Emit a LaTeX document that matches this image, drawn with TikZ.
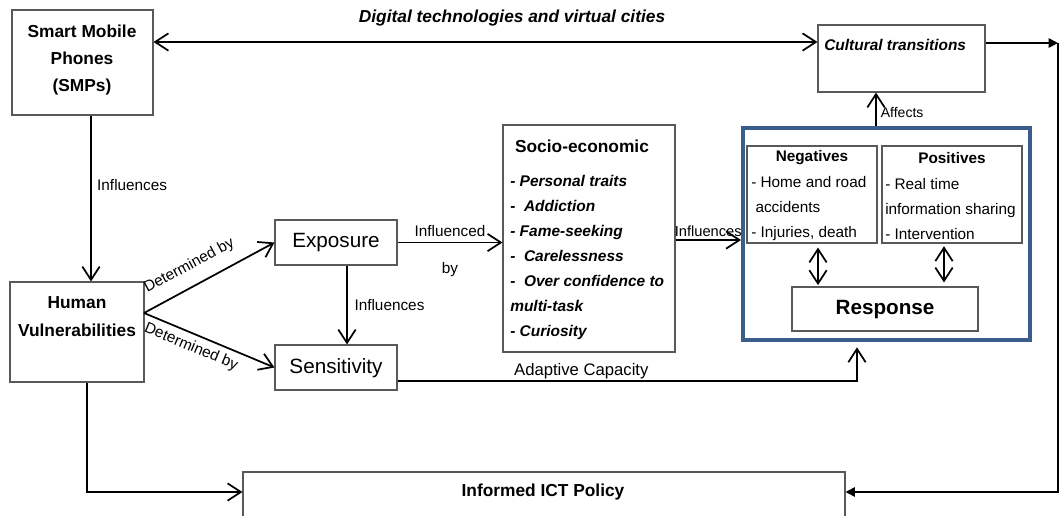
\documentclass[tikz,border=0pt]{standalone}
\usepackage{fontspec}
\setmainfont{Liberation Sans}
\usetikzlibrary{arrows.meta,positioning,fit}
\definecolor{frameblue}{RGB}{59,93,140}

\begin{document}
\begin{tikzpicture}[x=0.75pt,y=-0.75pt]

	\tikzstyle{box} = [draw=black!65, line width=0.8pt, fill=white, inner sep=0pt]
	\tikzstyle{txt} = [inner sep=0pt]
	\tikzstyle{lbl} = [font=\fontsize{11.5}{13}\selectfont, inner sep=1pt]
	\tikzstyle{link} = [line width=1.3pt, -{Straight Barb[length=10pt,width=13pt]}]
	\tikzstyle{twoway} = [line width=1.3pt, {Straight Barb[length=10pt,width=13pt]}-{Straight Barb[length=10pt,width=13pt]}]
	\tikzstyle{feed} = [line width=1.3pt, -{Triangle[length=7pt,width=7pt]}]

	\useasboundingbox (0,0) rectangle (1061,515);
	\fill [white] (0,0) rectangle (1061,515);

	% left column
	\node (smp) [box, fit={(12,10) (153,115)}] {};
	\node (smptext) [txt, align=center, font=\fontsize{13}{20.25}\selectfont\bfseries] at (82,60) {Smart Mobile\\Phones\\(SMPs)};
	\node (hv) [box, fit={(10,282) (144,382)}] {};
	\node (hvtext) [txt, align=center, font=\fontsize{13}{21}\selectfont\bfseries] at (77,317) {Human\\Vulnerabilities};

	% exposure and sensitivity
	\node (exposure) [box, fit={(275,220) (397,265)}] {};
	\node (exptext) [txt, font=\fontsize{15.5}{18}\selectfont] at (336,243) {Exposure};
	\node (sensitivity) [box, fit={(275,345) (397,390)}] {};
	\node (sentext) [txt, font=\fontsize{15.5}{18}\selectfont] at (336,368) {Sensitivity};

	% socio-economic
	\node (socio) [box, fit={(503,125) (675,352)}] {};
	\node (sociotitle) [txt, font=\fontsize{13}{15}\selectfont\bfseries] at (582,146) {Socio-economic};
	\node (traits) [txt, anchor=west, align=left, font=\fontsize{11.6}{18.75}\selectfont\bfseries\itshape] at (510,257)
		{- Personal traits\\-\ \ Addiction\\- Fame-seeking\\-\ \ Carelessness\\-\ \ Over confidence to\\multi-task\\- Curiosity};

	% response frame
	\node (frame) [box, draw=frameblue, line width=3pt, fit={(743,128) (1030,340)}] {};
	\node (neg) [box, fit={(747,146) (877,243)}] {};
	\node (negtitle) [txt, font=\fontsize{11.5}{13}\selectfont\bfseries] at (812,158) {Negatives};
	\node (negitems) [txt, anchor=west, align=left, font=\fontsize{11.5}{18.75}\selectfont] at (751,209)
		{- Home and road\\\ accidents\\- Injuries, death};
	\node (pos) [box, fit={(882,146) (1022,243)}] {};
	\node (postitle) [txt, font=\fontsize{11.5}{13}\selectfont\bfseries] at (952,158) {Positives};
	\node (positems) [txt, anchor=west, align=left, font=\fontsize{11.5}{18.75}\selectfont] at (885,209)
		{- Real time\\information sharing\\- Intervention};
	\node (response) [box, fit={(792,287) (978,331)}] {};
	\node (resptext) [txt, font=\fontsize{15.5}{18}\selectfont\bfseries] at (885,310) {Response};

	% top and bottom
	\node (culture) [box, fit={(818,25) (985,92)}] {};
	\node (culturetext) [txt, anchor=west, font=\fontsize{11.6}{14}\selectfont\bfseries\itshape] at (824,45) {Cultural transitions};
	\node (digital) [txt, font=\fontsize{13}{15}\selectfont\bfseries\itshape] at (512,18) {Digital technologies and virtual cities};
	\node (ict) [box, fit={(243,472) (845,545)}] {};
	\node (icttext) [txt, font=\fontsize{13}{15}\selectfont\bfseries] at (543,492) {Informed ICT Policy};

	\coordinate (toprow) at (0,42);
	\coordinate (rcorner) at (1058,43);
	\coordinate (hvout) at (144,313);

	% connectors
	\draw [twoway] (smp.east |- toprow) -- (culture.west |- toprow);
	\draw [feed] (culture.east |- rcorner) -- (rcorner);
	\draw [feed] (rcorner) -- (rcorner |- icttext) -- (ict.east |- icttext);
	\draw [link] (frame.north -| 876,0) -- (culture.south -| 876,0)
		node (affects) [pos=0.4, right=2pt, lbl, font=\fontsize{10.5}{12}\selectfont] {Affects};
	\draw [link] (smp.south -| 91,0) -- (hv.north -| 91,0)
		node (infsmp) [pos=0.42, right=3pt, lbl] {Influences};
	\draw [link] (hvout) -- (exposure.west)
		node (detexp) [pos=0.42, sloped, above=8pt, lbl] {Determined by};
	\draw [link] (hvout) -- (sensitivity.west)
		node (detsen) [pos=0.4, sloped, below=3pt, lbl] {Determined by};
	\draw [link] (exposure.south -| 347,0) -- (sensitivity.north -| 347,0)
		node (infexp) [midway, right=4pt, lbl] {Influences};
	\draw [link] (exposure.east) -- (socio.west |- exposure.east)
		node (infd) [midway, above=3pt, lbl] {Influenced}
		node (infby) [midway, below=13pt, lbl] {by};
	\draw [link] (socio.east |- 0,240) -- (frame.west |- 0,240)
		node (infsoc) [midway, above=1pt, lbl, font=\fontsize{11}{13}\selectfont] {Influences};
	\draw [link, shorten >=4pt] (sensitivity.east |- 0,381) -| (frame.south -| 857,0)
		node (adapt) [pos=0.2, above=0pt, lbl, font=\fontsize{12.5}{14}\selectfont] {Adaptive Capacity};
	\draw [link] (hv.south -| 87,0) |- (ict.west |- icttext);
	\draw [twoway, shorten <=3pt, shorten >=1pt] (neg.south -| 818,0) -- (response.north -| 818,0);
	\draw [twoway, shorten <=2pt, shorten >=3pt] (pos.south -| 944,0) -- (response.north -| 944,0);

\end{tikzpicture}
\end{document}
